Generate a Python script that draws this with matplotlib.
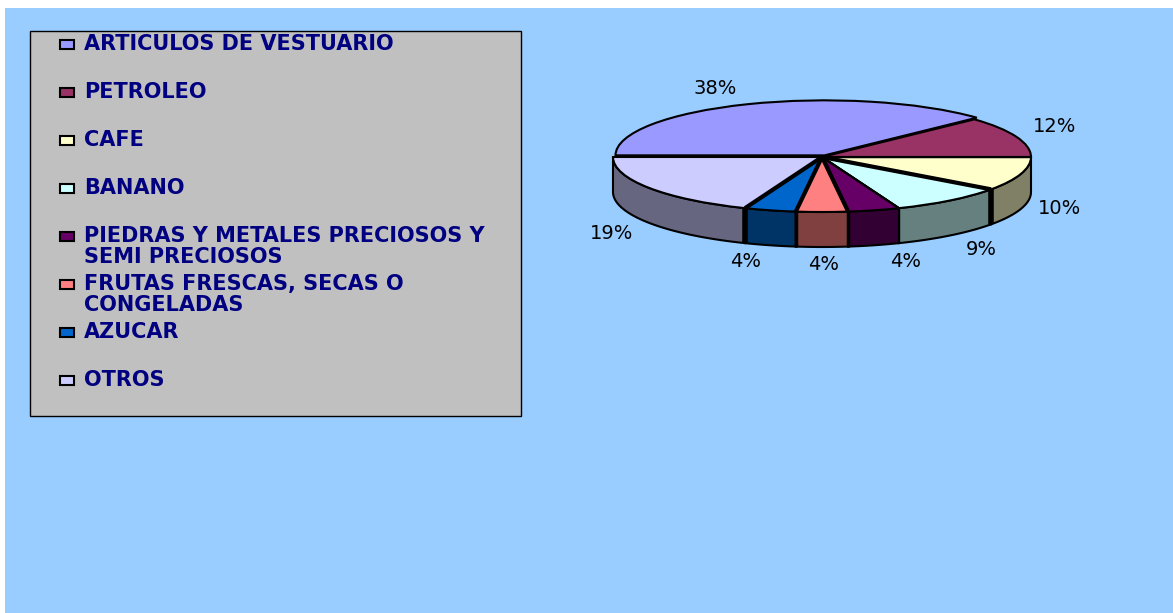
"""Export share pie (fake 3D) with a grey legend panel on a light blue page."""

import numpy as np
import matplotlib
matplotlib.use("Agg")
import matplotlib.pyplot as plt
from matplotlib.patches import Rectangle, Wedge

CATEGORIES = [
    "ARTICULOS DE VESTUARIO",
    "PETROLEO",
    "CAFE",
    "BANANO",
    "PIEDRAS Y METALES PRECIOSOS Y\nSEMI PRECIOSOS",
    "FRUTAS FRESCAS, SECAS O\nCONGELADAS",
    "AZUCAR",
    "OTROS",
]
VALUES = [38, 12, 10, 9, 4, 4, 4, 19]

TOP_COLORS = ["#9999FF", "#993366", "#FFFFCC", "#CCFFFF", "#660066", "#FF8080", "#0066CC", "#CCCCFF"]
SIDE_COLORS = ["#666699", "#4D1A33", "#808066", "#668080", "#330033", "#804040", "#003366", "#666680"]
# black line after each slice, on the top face and on the wall
TOP_LW = [1.0, 1.0, 3.0, 1.5, 3.0, 3.0, 3.0, 1.0]
WALL_LW = [1.0, 1.0, 4.0, 1.0, 2.5, 2.5, 4.0, 1.0]
# label offset from the rim of its slice, in pixels
LABEL_OFFSETS = [(-30, 17), (38, 10), (39, 0), (31, -14), (32, -16), (2, -17), (-24, -16), (-38, -11)]

W, H = 1173, 613
CX, CY, RX, RY = 822, 157, 209, 55
DEPTH = 35 / RY
PAGE = "#99CCFF"
NAVY = "#000080"

fig = plt.figure(figsize=(W / 100, H / 100), dpi=100, facecolor="white")

# page and legend panel live in a pixel sized axes
page = fig.add_axes([0, 0, 1, 1])
page.set_xlim(0, W)
page.set_ylim(H, 0)
page.axis("off")
page.add_patch(Rectangle((5, 8), W - 5, H - 8, facecolor=PAGE, edgecolor="none"))
page.add_patch(Rectangle((30, 31), 491, 385, facecolor="#C0C0C0", edgecolor="black", linewidth=1))

for i, name in enumerate(CATEGORIES):
    y = 44 + 48 * i
    page.add_patch(Rectangle((60, y - 4), 14, 9, facecolor=TOP_COLORS[i], edgecolor="black", linewidth=1.5))
    for j, line in enumerate(name.split("\n")):
        page.text(84, y + j * 21, line, family="DejaVu Sans", fontweight="bold", fontsize=15,
                  color=NAVY, va="center", ha="left")

# pie axes: unit circle squashed into the ellipse by the axes shape
x_pad, y_up, y_down = 1.3, 1.4, 2.4
ax = fig.add_axes([
    (CX - x_pad * RX) / W,
    1 - (CY + y_down * RY) / H,
    2 * x_pad * RX / W,
    (y_up + y_down) * RY / H,
])
ax.set_xlim(-x_pad, x_pad)
ax.set_ylim(-y_down, y_up)
ax.axis("off")

sweeps = np.array(VALUES) / sum(VALUES) * 360
ends = 180 - np.cumsum(sweeps)
starts = ends + sweeps

# walls first, left and right towards the front
order = sorted(range(len(VALUES)), key=lambda k: abs(-90 - (starts[k] + ends[k]) / 2), reverse=True)
for i in order:
    hi, lo = min(starts[i], 0), max(ends[i], -180)
    if hi <= lo:
        continue
    t = np.radians(np.linspace(lo, hi, 60))
    xs = np.concatenate([np.cos(t), np.cos(t)[::-1]])
    ys = np.concatenate([np.sin(t) - DEPTH, np.sin(t)[::-1]])
    ax.fill(xs, ys, facecolor=SIDE_COLORS[i], edgecolor="black", linewidth=1.5, zorder=2)

# first slice is pulled out a little and shows its cut face
dx0, dy0 = 0.012, 0.03

for i in range(len(VALUES)):
    if i == 0:
        ax.add_patch(Wedge((dx0, dy0 - 0.05), 1, ends[i], starts[i], facecolor=SIDE_COLORS[0],
                           edgecolor="black", linewidth=1, zorder=3))
        center = (dx0, dy0)
    else:
        center = (0, 0)
    ax.add_patch(Wedge(center, 1, ends[i], starts[i], facecolor=TOP_COLORS[i],
                       edgecolor="black", linewidth=1.5, zorder=3 + (i == 0)))

# separators between slices
for i in range(1, len(VALUES) - 1):
    a = np.radians(ends[i])
    ax.plot([0, np.cos(a)], [0, np.sin(a)], color="black", linewidth=TOP_LW[i], zorder=5,
            solid_capstyle="butt")
    if np.sin(a) < 0:
        ax.plot([np.cos(a)] * 2, [np.sin(a), np.sin(a) - DEPTH], color="black", linewidth=WALL_LW[i],
                zorder=5, solid_capstyle="butt")

for i, v in enumerate(VALUES):
    a = np.radians((starts[i] + ends[i]) / 2)
    rim_y = np.sin(a) - (DEPTH if np.sin(a) < 0 else 0)
    ax.annotate(f"{v}%", (np.cos(a), rim_y), xytext=LABEL_OFFSETS[i], textcoords="offset pixels",
                family="DejaVu Sans", fontsize=14, color="black", ha="center", va="center",
                annotation_clip=False)

fig.savefig("out.png", dpi=100, facecolor=fig.get_facecolor())
plt.close(fig)
